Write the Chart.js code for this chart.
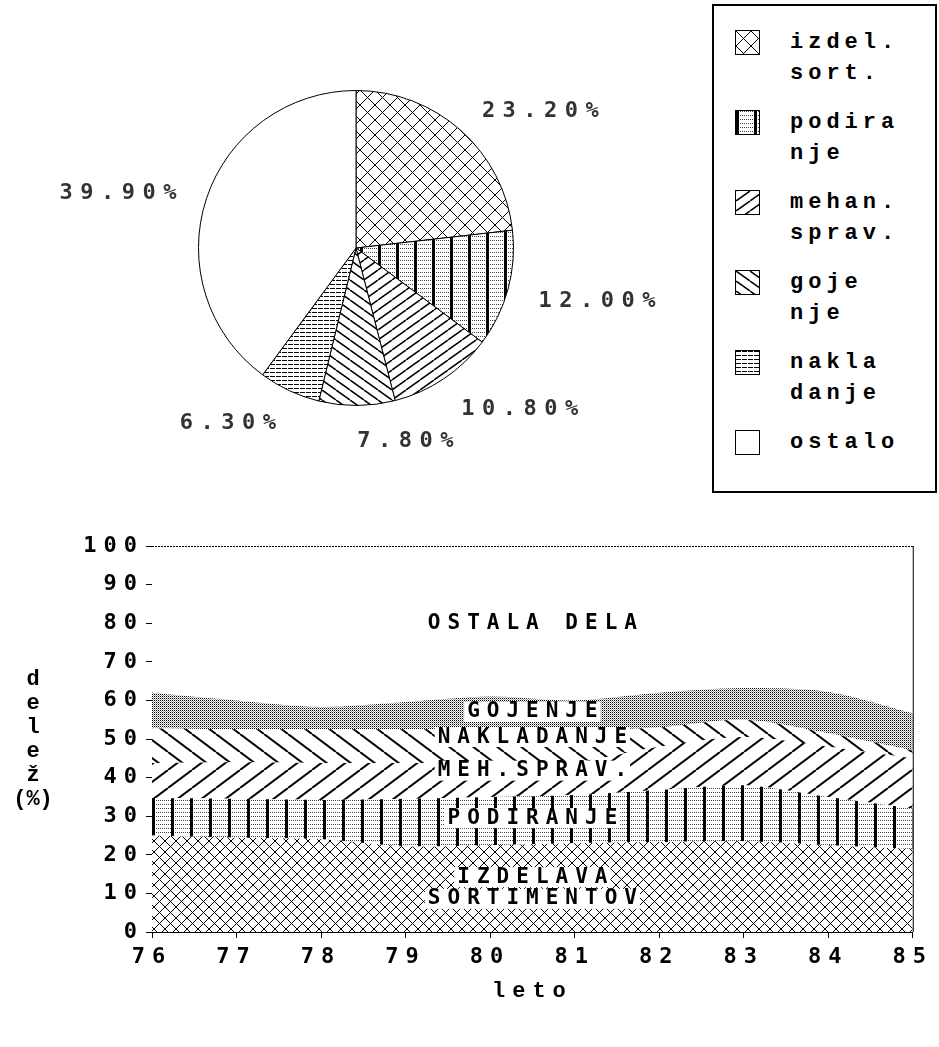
<!DOCTYPE html>
<html>
<head>
<meta charset="utf-8">
<script src="https://cdn.jsdelivr.net/npm/chart.js@4.4.0/dist/chart.umd.min.js"></script>
<style>
  body { margin: 0; background: #fff; width: 939px; height: 1047px; position: relative; overflow: hidden; }
  #pie { position: absolute; left: 0; top: 0; }
  #area { position: absolute; left: 0; top: 500px; }
  #legend { position: absolute; left: 712px; top: 4px; width: 225px; height: 489px; border: 2px solid #000; box-sizing: border-box; }
  .swatch { position: absolute; left: 21px; border: 1px solid #000; }
  .ltext { position: absolute; left: 76px; font: bold 22px "Liberation Mono", monospace; letter-spacing: 5px; line-height: 31px; white-space: pre; color: #000; }
</style>
</head>
<body>
<canvas id="pie" width="712" height="496"></canvas>
<div id="legend"></div>
<canvas id="area" width="939" height="547"></canvas>
<script>
// pie: share of work phases
const pieLegend = [['izdel.', 'sort.'], ['podira', 'nje'], ['mehan.', 'sprav.'], ['goje', 'nje'], ['nakla', 'danje'], ['ostalo']];
const pieValues = [23.2, 12.0, 10.8, 7.8, 6.3, 39.9];

// area: share by year (%)
const years = ['76', '77', '78', '79', '80', '81', '82', '83', '84', '85'];
const izdelava   = [25.0, 24.4, 24.0, 22.2, 22.5, 23.0, 23.3, 23.5, 22.5, 21.5];
const podiranje  = [9.7, 10.1, 10.2, 12.3, 12.5, 12.5, 13.5, 14.5, 12.5, 10.5];
const mehSprav   = [9.1, 9.5, 9.6, 9.3, 8.8, 8.5, 11.2, 12.5, 13.0, 13.0];
const nakladanje = [9.0, 8.5, 8.7, 8.7, 8.7, 8.3, 5.0, 4.5, 3.5, 2.0];
const gojenje    = [9.2, 7.5, 5.8, 7.1, 8.5, 7.7, 9.0, 8.2, 10.7, 9.7];
const ostalaDela = [38.0, 40.0, 41.7, 40.4, 39.0, 40.0, 38.0, 36.8, 37.8, 43.3];
const yTicks = [0, 10, 20, 30, 40, 50, 60, 70, 80, 90, 100];

// --- hatch tiles ---
function tile(w, h, draw) {
    const c = document.createElement('canvas');
    c.width = w; c.height = h;
    const g = c.getContext('2d');
    g.fillStyle = '#fff';
    g.fillRect(0, 0, w, h);
    g.strokeStyle = '#000';
    g.fillStyle = '#000';
    draw(g, w, h);
    return c;
}
const cross = s => tile(s, s, (g, w, h) => {
    g.lineWidth = 1;
    g.beginPath();
    g.moveTo(0, 0); g.lineTo(w, h);
    g.moveTo(w, 0); g.lineTo(0, h);
    g.stroke();
});
const slash = (w, h, lw, back) => tile(w, h, (g) => {
    g.lineWidth = lw;
    g.beginPath();
    for (let x = -w; x <= w; x += w) {
        if (back) { g.moveTo(x, 0); g.lineTo(x + w, h); }
        else { g.moveTo(x, h); g.lineTo(x + w, 0); }
    }
    g.stroke();
});
const bars = (w, h, bw) => tile(w, h, (g) => {
    g.fillStyle = '#444';
    for (let x = 0; x < w; x += 2) g.fillRect(x, 0, 1, 1);
    g.fillStyle = '#000';
    g.fillRect(0, 0, bw, h);
});
const dots = () => tile(2, 2, (g) => {
    g.fillRect(0, 0, 1, 1);
    g.fillStyle = '#999';
    g.fillRect(1, 1, 1, 1);
});
const hlines = (w, h) => tile(w, h, (g) => { g.fillRect(0, 0, w - 1, 1); });
const blank = () => tile(4, 4, () => {});

const pieCtx = document.getElementById('pie').getContext('2d');
const areaCtx = document.getElementById('area').getContext('2d');
const P = (ctx, t) => ctx.createPattern(t, 'repeat');

const pieTiles = [cross(15), bars(18, 4, 3), slash(14, 10, 1.5, false), slash(14, 10, 1.5, true), hlines(6, 4), blank()];
const pieFills = pieTiles.map(t => P(pieCtx, t));

// legend (html)
const legend = document.getElementById('legend');
pieLegend.forEach((lines, i) => {
    const sw = document.createElement('canvas');
    sw.width = 23; sw.height = 23;
    sw.className = 'swatch';
    sw.style.top = (24 + i * 80) + 'px';
    const g = sw.getContext('2d');
    g.fillStyle = g.createPattern(pieTiles[i], 'repeat');
    g.fillRect(0, 0, 23, 23);
    legend.appendChild(sw);
    const t = document.createElement('div');
    t.className = 'ltext';
    t.style.top = (21 + i * 80) + 'px';
    t.textContent = lines.join('\n');
    legend.appendChild(t);
});

const spacing = {
    id: 'spacing',
    beforeUpdate(chart, args, opts) { chart.ctx.letterSpacing = opts.px + 'px'; },
    beforeDraw(chart, args, opts) { chart.ctx.letterSpacing = opts.px + 'px'; }
};

const pieLabels = {
    id: 'pieLabels',
    afterDraw(chart) {
        const ctx = chart.ctx;
        const sp = 7.5;
        ctx.save();
        ctx.font = 'bold 22px "DejaVu Sans Mono"';
        ctx.letterSpacing = sp + 'px';
        ctx.fillStyle = '#333';
        ctx.textBaseline = 'middle';
        chart.getDatasetMeta(0).data.forEach((arc, i) => {
            const mid = (arc.startAngle + arc.endAngle) / 2;
            const R = arc.outerRadius * 1.2;
            const x = arc.x + Math.cos(mid) * R;
            const y = arc.y + Math.sin(mid) * R + 4;
            const right = Math.cos(mid) >= 0;
            ctx.textAlign = right ? 'left' : 'right';
            ctx.fillText(pieValues[i].toFixed(2) + '%', right ? x : x + sp, y);
        });
        ctx.restore();
    }
};

new Chart(pieCtx, {
    type: 'pie',
    data: {
        labels: pieLegend.map(l => l.join(' ')),
        datasets: [{
            data: pieValues,
            backgroundColor: pieFills,
            borderColor: '#000',
            borderWidth: 1
        }]
    },
    options: {
        responsive: false,
        animation: false,
        layout: { padding: { left: 198, right: 198, top: 90, bottom: 90 } },
        plugins: { legend: { display: false }, tooltip: { enabled: false } }
    },
    plugins: [pieLabels]
});

// --- area chart ---
const areaFills = [cross(11), bars(19, 4, 3), slash(24, 18, 2, false), slash(24, 18, 2, true), dots(), blank()].map(t => P(areaCtx, t));
const series = [
    ['IZDELAVA SORTIMENTOV', izdelava],
    ['PODIRANJE', podiranje],
    ['MEH.SPRAV.', mehSprav],
    ['NAKLADANJE', nakladanje],
    ['GOJENJE', gojenje],
    ['OSTALA DELA', ostalaDela]
];

const bandLabels = {
    id: 'bandLabels',
    afterDatasetsDraw(chart, args, opts) {
        const { ctx, scales: { x, y } } = chart;
        const sp = 7;
        const cx = (x.getPixelForValue(4) + x.getPixelForValue(5)) / 2;
        ctx.save();
        ctx.font = 'bold 21px "DejaVu Sans Mono"';
        ctx.letterSpacing = sp + 'px';
        ctx.textAlign = 'center';
        ctx.textBaseline = 'middle';
        opts.items.forEach(([text, v]) => {
            const py = y.getPixelForValue(v);
            const w = ctx.measureText(text).width - sp;
            ctx.fillStyle = '#fff';
            ctx.fillRect(cx - w / 2 - 3, py - 10, w + 6, 20);
            ctx.fillStyle = '#000';
            ctx.fillText(text, cx + sp / 2, py);
        });
        ctx.restore();
    }
};

const frame = {
    id: 'frame',
    afterDraw(chart) {
        const { ctx, chartArea: a } = chart;
        ctx.save();
        ctx.strokeStyle = '#000';
        ctx.lineWidth = 1;
        ctx.beginPath();
        ctx.setLineDash([2, 1]);
        ctx.moveTo(a.left, a.top + 0.5);
        ctx.lineTo(a.right + 0.5, a.top + 0.5);
        ctx.stroke();
        ctx.setLineDash([]);
        ctx.beginPath();
        ctx.moveTo(a.right + 0.5, a.top);
        ctx.lineTo(a.right + 0.5, a.bottom);
        ctx.stroke();
        // vertical y title, one letter per line
        ctx.font = 'bold 22px "Liberation Mono"';
        ctx.letterSpacing = '0px';
        ctx.fillStyle = '#000';
        ctx.textAlign = 'center';
        ctx.textBaseline = 'middle';
        const letters = ['d', 'e', 'l', 'e', 'ž', '(%)'];
        const mid = (a.top + a.bottom) / 2;
        letters.forEach((s, i) => {
            ctx.fillText(s, 33, mid + (i - 2.5) * 24);
        });
        ctx.restore();
    }
};

new Chart(areaCtx, {
    type: 'line',
    data: {
        labels: years,
        datasets: series.map(([name, vals], i) => ({
            label: name,
            data: vals,
            fill: i === 0 ? 'origin' : '-1',
            backgroundColor: areaFills[i],
            borderWidth: 0,
            borderColor: 'rgba(0,0,0,0)',
            pointRadius: 0,
            tension: 0.3
        }))
    },
    options: {
        responsive: false,
        animation: false,
        layout: { padding: { left: 0, right: 23, top: 46, bottom: 42 } },
        scales: {
            x: {
                offset: false,
                grid: { display: true, drawOnChartArea: false, tickLength: 6, color: '#000' },
                border: { display: true, color: '#000', width: 1 },
                ticks: { color: '#000', autoSkip: false, maxRotation: 0, padding: 6,
                         font: { family: 'DejaVu Sans Mono', size: 22, weight: 'bold' } },
                title: { display: true, text: 'leto', color: '#000', padding: 0,
                         font: { family: 'Liberation Mono', size: 22, weight: 'bold' } },
                afterFit(s) { s.height = 73; }
            },
            y: {
                stacked: true,
                min: 0,
                max: 100,
                afterBuildTicks(s) { s.ticks = yTicks.map(v => ({ value: v })); },
                grid: { display: true, drawOnChartArea: false, tickLength: 6, color: '#000' },
                border: { display: true, color: '#000', width: 1 },
                ticks: { color: '#000', padding: 2,
                         font: { family: 'DejaVu Sans Mono', size: 22, weight: 'bold' } },
                afterFit(s) { s.width = 152; }
            }
        },
        plugins: {
            legend: { display: false },
            tooltip: { enabled: false },
            spacing: { px: 7 },
            bandLabels: {
                items: [
                    ['OSTALA DELA', 80],
                    ['GOJENJE', 57],
                    ['NAKLADANJE', 50.5],
                    ['MEH.SPRAV.', 41.8],
                    ['PODIRANJE', 29.5],
                    ['IZDELAVA', 14.2],
                    ['SORTIMENTOV', 8.6]
                ]
            }
        }
    },
    plugins: [spacing, bandLabels, frame]
});
</script>
</body>
</html>
